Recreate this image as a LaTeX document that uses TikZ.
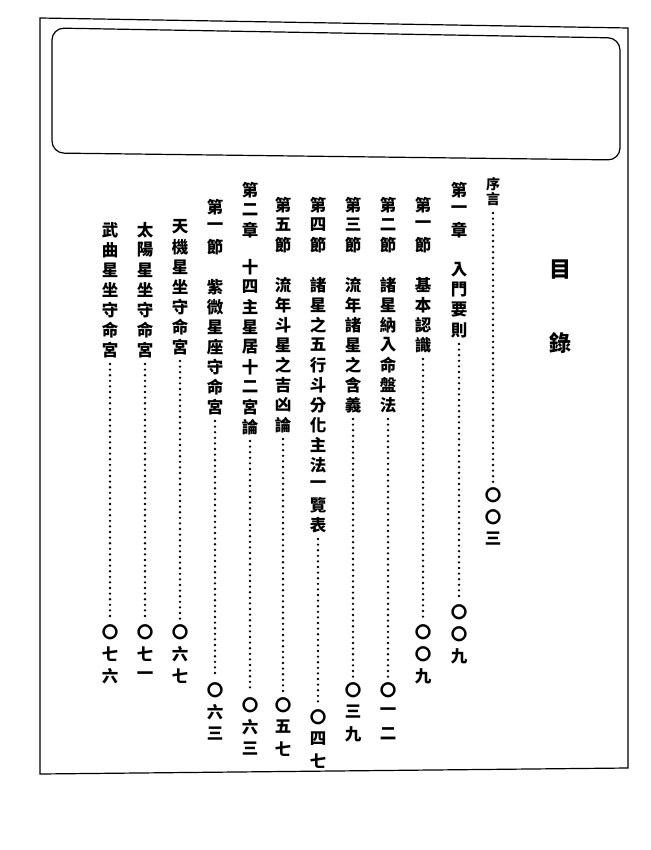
\documentclass[tikz,border=0pt]{standalone}
\usepackage{fontspec}
\newfontfamily\cjk{Noto Sans CJK TC}
\newcommand\vcolumn[7]{% x, y0 prefix, prefix list, y0 title, title list, dot end, number y0 + list
  \foreach \c [count=\i from 0] in {#3} \node[ch] at (#1,{#2+20*\i}) {\c};
  \foreach \c [count=\i from 0] in {#5} {\node[ch] at (#1,{#4+20*\i}) {\c}; \xdef\lasty{\the\numexpr#4+20*\i\relax}}
  \draw[dots] (#1,\lasty+14) -- (#1,#6-13);
  \foreach \c [count=\i from 0] in {#7} \node[ch] at (#1,{#6+22*\i}) {\c};
}
\begin{document}
\begin{tikzpicture}[x=1pt,y=-1pt,
  ch/.style={font=\cjk\fontsize{16.5}{16.5}\selectfont\bfseries,inner sep=0pt,text=black},
  dots/.style={line width=2.6pt,line cap=round,dash pattern=on 0pt off 5.6pt,black}]
\useasboundingbox (0,0) rectangle (650,850);
\draw[line width=1.2pt] (40,18) -- (628,28) -- (628,768) -- (40,774) -- cycle;
\draw[line width=1.2pt,rounded corners=12pt] (52,28) -- (620,38) -- (620,160) -- (52,153) -- cycle;
\node[font=\cjk\fontsize{22}{22}\selectfont\bfseries] (t1) at (560,270) {目};
\node[font=\cjk\fontsize{22}{22}\selectfont\bfseries] (t2) at (560,343) {錄};
% preface
\node[ch,font=\cjk\fontsize{14}{14}\selectfont\bfseries] at (493,184) {序};
\node[ch,font=\cjk\fontsize{14}{14}\selectfont\bfseries] at (493,199) {言};
\draw[dots] (493,213) -- (493,483);
\foreach \c [count=\i from 0] in {〇,〇,三} \node[ch] at (493,{495+22*\i}) {\c};
\vcolumn{459}{190}{第,一,章}{270}{入,門,要,則}{612}{〇,〇,九}
\vcolumn{423}{205}{第,一,節}{285}{基,本,認,識}{632}{〇,〇,九}
\vcolumn{388}{205}{第,二,節}{285}{諸,星,納,入,命,盤,法}{690}{〇,一,二}
\vcolumn{353}{205}{第,三,節}{285}{流,年,諸,星,之,含,義}{690}{〇,三,九}
\vcolumn{318}{205}{第,四,節}{285}{諸,星,之,五,行,斗,分,化,主,法,一,覽,表}{717}{〇,四,七}
\vcolumn{283}{205}{第,五,節}{285}{流,年,斗,星,之,吉,凶,論}{705}{〇,五,七}
\vcolumn{250}{190}{第,二,章}{267}{十,四,主,星,居,十,二,宮,論}{705}{〇,六,三}
\vcolumn{215}{207}{第,一,節}{287}{紫,微,星,座,守,命,宮}{690}{〇,六,三}
\vcolumn{180}{227}{天}{247}{機,星,坐,守,命,宮}{632}{〇,六,七}
\vcolumn{145}{230}{太}{250}{陽,星,坐,守,命,宮}{632}{〇,七,一}
\vcolumn{110}{230}{武}{250}{曲,星,坐,守,命,宮}{632}{〇,七,六}
\end{tikzpicture}
\end{document}
